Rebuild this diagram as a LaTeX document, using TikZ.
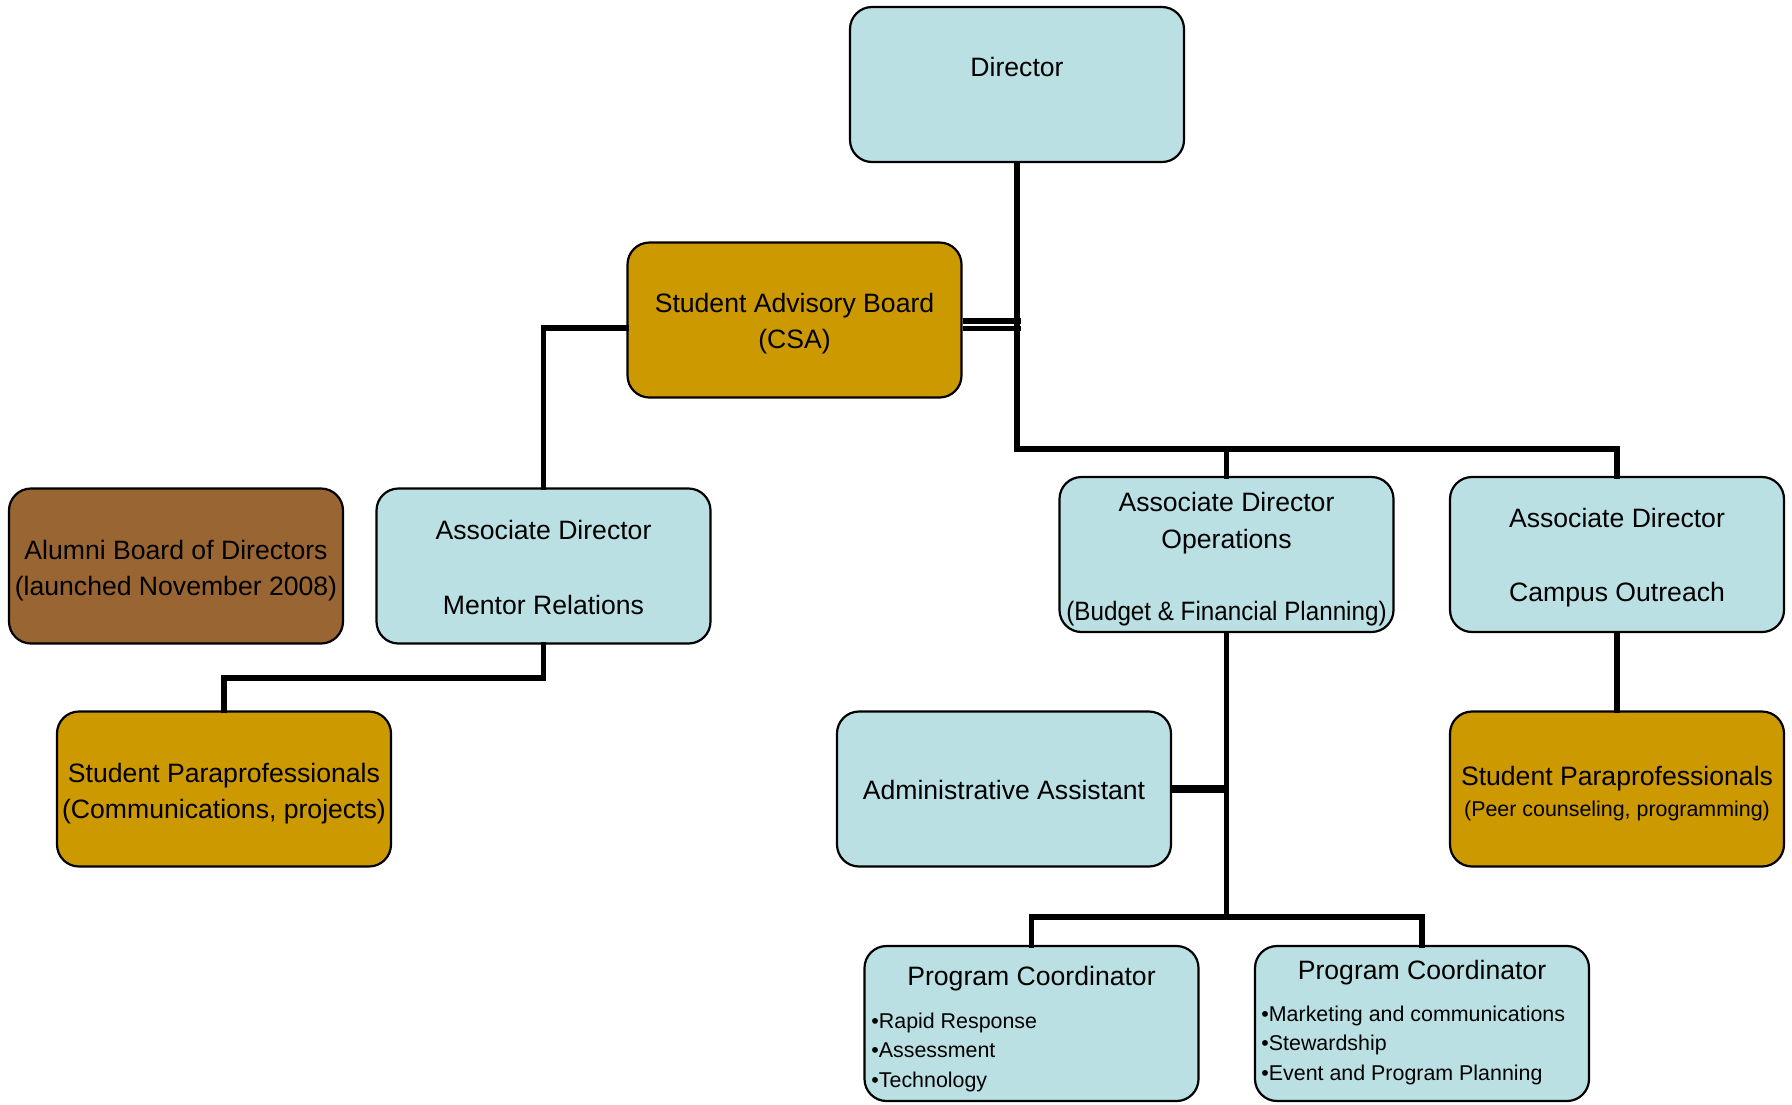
\documentclass[tikz,border=0pt]{standalone}
\usepackage{fontspec}
\usepackage{graphicx}
\setmainfont{Liberation Sans}
\definecolor{cblue}{RGB}{186,224,228}
\definecolor{cgold}{RGB}{204,153,0}
\definecolor{cbrown}{RGB}{153,102,51}
\begin{document}
\begin{tikzpicture}[x=0.5pt,y=-0.5pt,
  orgbox/.style={draw=black, line width=1.1pt, rounded corners=11pt,
    minimum width=167pt, minimum height=77.5pt, inner sep=0pt},
  boxblue/.style={orgbox, fill=cblue},
  boxgold/.style={orgbox, fill=cgold},
  boxbrown/.style={orgbox, fill=cbrown},
  lbl/.style={font=\fontsize{13.3}{16}\selectfont, inner sep=0pt, anchor=base},
  sml/.style={font=\fontsize{10.7}{13}\selectfont, inner sep=0pt, anchor=base},
  bul/.style={sml, anchor=base west},
  conn/.style={line width=2.6pt, line cap=rect}]
\useasboundingbox (0,0) rectangle (1792,1104);

% boxes
\node[boxblue]  (dir)  at (1017,84.5) {};
\node[boxgold]  (csa)  at (794.5,320) {};
\node[boxbrown] (alum) at (176,566) {};
\node[boxblue]  (ment) at (543.5,566) {};
\node[boxgold]  (spl)  at (224,789) {};
\node[boxblue]  (ops)  at (1226.5,554.5) {};
\node[boxblue]  (camp) at (1617,554.5) {};
\node[boxblue]  (adm)  at (1004,789) {};
\node[boxgold]  (spr)  at (1617,789) {};
\node[boxblue]  (pcl)  at (1031.5,1023.5) {};
\node[boxblue]  (pcr)  at (1422,1023.5) {};

% junctions
\coordinate (jtop) at (1017,449);
\coordinate (jcsa) at (1021,320);
\coordinate (jment) at (543.5,678);
\coordinate (jops) at (1226.5,917);

% connectors
\draw[conn] (dir.south) -- (jtop) -| (camp.north);
\draw[conn] (jtop) -| (ops.north);
\draw[line width=2.6pt] ([yshift=-0.5pt]csa.east) -- ([yshift=-0.5pt]csa.east -| jcsa);
\draw[line width=2.6pt] ([yshift=-4.3pt]csa.east) -- ([yshift=-4.3pt]csa.east -| jcsa);
\draw[conn] ([yshift=-4pt]csa.west) -| (ment.north);
\draw[conn] (ment.south) -- (jment) -| (spl.north);
\draw[conn] (camp.south) -- (spr.north);
\draw[conn] (ops.south) -- (jops);
\draw[line width=3.6pt] (adm.east) -- (adm.east -| ops.south);
\draw[conn] (jops) -| (pcl.north);
\draw[conn] (jops) -| (pcr.north);

% texts
\node[lbl] (t1) at (1017,76) {Director};
\node[lbl] (t2) at (794.5,312) {Student Advisory Board};
\node[lbl] (t3) at (794.5,348) {(CSA)};
\node[lbl] (t4) at (176,559) {Alumni Board of Directors};
\node[lbl] (t5) at (176,595) {(launched November 2008)};
\node[lbl] (t6) at (543.5,539) {Associate Director};
\node[lbl] (t7) at (543.5,614) {Mentor Relations};
\node[lbl] (t8) at (224,782) {Student Paraprofessionals};
\node[lbl] (t9) at (224,818) {(Communications, projects)};
\node[lbl] (t10) at (1226.5,511) {Associate Director};
\node[lbl] (t11) at (1226.5,548) {Operations};
\node[lbl] (t12) at (1226.5,620) {\scalebox{0.91}[1]{(Budget \& Financial Planning)}};
\node[lbl] (t13) at (1617,527) {Associate Director};
\node[lbl] (t14) at (1617,601) {Campus Outreach};
\node[lbl] (t15) at (1004,799) {Administrative Assistant};
\node[lbl] (t16) at (1617,785) {Student Paraprofessionals};
\node[sml] (t17) at (1617,816) {(Peer counseling, programming)};
\node[lbl] (t18) at (1031.5,985) {Program Coordinator};
\node[bul] (t19) at (871,1028) {•Rapid Response};
\node[bul] (t20) at (871,1057) {•Assessment};
\node[bul] (t21) at (871,1087) {•Technology};
\node[lbl] (t22) at (1422,979) {Program Coordinator};
\node[bul] (t23) at (1261,1021) {•Marketing and communications};
\node[bul] (t24) at (1261,1050) {•Stewardship};
\node[bul] (t25) at (1261,1080) {•Event and Program Planning};
\end{tikzpicture}
\end{document}
